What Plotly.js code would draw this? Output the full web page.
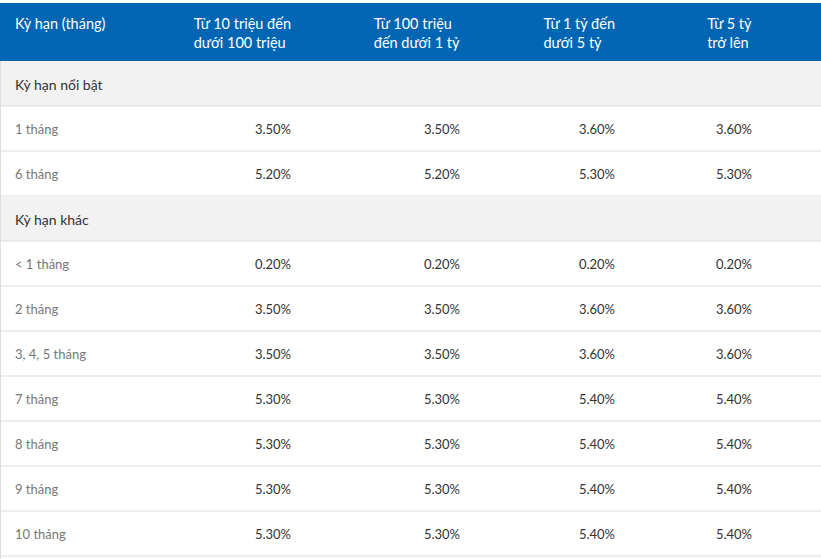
<!DOCTYPE html>
<html>
<head>
<meta charset="utf-8">
<script src="https://cdn.plot.ly/plotly-3.0.1.min.js"></script>
<style>
  html, body { margin: 0; padding: 0; background: #fff; overflow: hidden; }
  #wrap { width: 821px; height: 559px; overflow: hidden; }
</style>
</head>
<body>
<div id="wrap"><div id="rate-table"></div></div>
<script>
// column headers
var headers = ['<span>Kỳ hạn (tháng)</span>', 'Từ 10 triệu đến<br>dưới 100 triệu', 'Từ 100 triệu<br>đến dưới 1 tỷ', 'Từ 1 tỷ đến<br>dưới 5 tỷ', 'Từ 5 tỷ<br>trở lên', ''];

// row labels (group rows have no rates)
var terms = ['Kỳ hạn nổi bật', '1 tháng', '6 tháng', 'Kỳ hạn khác', '< 1 tháng', '2 tháng', '3, 4, 5 tháng', '7 tháng', '8 tháng', '9 tháng', '10 tháng'];
var isGroup = [true, false, false, true, false, false, false, false, false, false, false];

// interest rates (%) by deposit amount
var rate10m = [null, 3.5, 5.2, null, 0.2, 3.5, 3.5, 5.3, 5.3, 5.3, 5.3];
var rate100m = [null, 3.5, 5.2, null, 0.2, 3.5, 3.5, 5.3, 5.3, 5.3, 5.3];
var rate1b = [null, 3.6, 5.3, null, 0.2, 3.6, 3.6, 5.4, 5.4, 5.4, 5.4];
var rate5b = [null, 3.6, 5.3, null, 0.2, 3.6, 3.6, 5.4, 5.4, 5.4, 5.4];

// every cell goes through the same markup path so rows line up
var wrapSpan = s => '<span>' + s + '</span>';
var fmt = v => wrapSpan(v === null ? ' ' : v.toFixed(2) + '%');
var labels = terms.map(wrapSpan);
var blanks = terms.map(() => '');

var labelColor = isGroup.map(g => (g ? '#333333' : '#777777'));
var labelSize = isGroup.map(g => (g ? 14 : 13));

// page geometry (px)
var ROW_H = 45, BAND_TOP = 3, BAND_BOTTOM = 61;
var HEAD_SHIFT = 4, BODY_SHIFT = 7;
var TABLE_TOP = BAND_TOP + HEAD_SHIFT;
var HEAD_H = BAND_BOTTOM + BODY_SHIFT - TABLE_TOP;
var FIG_H = 566;

var FONT = 'Lato, "Noto Sans", sans-serif';
var clear = 'rgba(0,0,0,0)';
var trace = {
  type: 'table',
  columnwidth: [143, 149, 169, 155, 137, 61],
  header: {
    values: headers,
    align: ['left', 'right', 'right', 'right', 'right', 'right'],
    height: HEAD_H,
    fill: { color: clear },
    line: { width: 0 },
    font: { family: FONT, size: 14.5, color: '#ffffff' }
  },
  cells: {
    values: [labels, rate10m.map(fmt), rate100m.map(fmt), rate1b.map(fmt), rate5b.map(fmt), blanks],
    align: ['left', 'right', 'right', 'right', 'right', 'right'],
    height: ROW_H,
    fill: { color: clear },
    line: { width: 0 },
    font: {
      family: FONT,
      size: [labelSize, 13, 13, 13, 13, 13],
      color: [labelColor, '#333333', '#333333', '#333333', '#333333', '#333333']
    }
  }
};

// backgrounds and separators, drawn under the transparent table
var PAPER_H = FIG_H - TABLE_TOP;
var py = px => 1 - (px - TABLE_TOP) / PAPER_H;
var L = -7 / 814;
var shapes = [{
  type: 'rect', xref: 'paper', yref: 'paper', layer: 'below',
  x0: L, x1: 1, y0: py(BAND_TOP), y1: py(BAND_BOTTOM),
  fillcolor: '#0066b3', line: { width: 0 }
}];
terms.forEach((t, i) => {
  var top = BAND_BOTTOM + ROW_H * i;
  if (isGroup[i]) {
    shapes.push({
      type: 'rect', xref: 'paper', yref: 'paper', layer: 'below',
      x0: L, x1: 1, y0: py(top), y1: py(top + ROW_H),
      fillcolor: '#f2f2f2', line: { width: 0 }
    });
  }
  shapes.push({
    type: 'line', xref: 'paper', yref: 'paper', layer: 'below',
    x0: L, x1: 1, y0: py(top + ROW_H), y1: py(top + ROW_H),
    line: { color: '#dddddd', width: 1 }
  });
});
shapes.push({
  type: 'line', xref: 'paper', yref: 'paper', layer: 'below',
  x0: L + 0.5 / 814, x1: L + 0.5 / 814, y0: py(BAND_BOTTOM), y1: py(FIG_H),
  line: { color: '#dddddd', width: 1 }
});

var layout = {
  width: 821,
  height: FIG_H,
  margin: { l: 7, r: 0, t: TABLE_TOP, b: 0 },
  paper_bgcolor: '#ffffff',
  shapes: shapes
};

Plotly.newPlot('rate-table', [trace], layout, { displayModeBar: false, staticPlot: true });
</script>
</body>
</html>
